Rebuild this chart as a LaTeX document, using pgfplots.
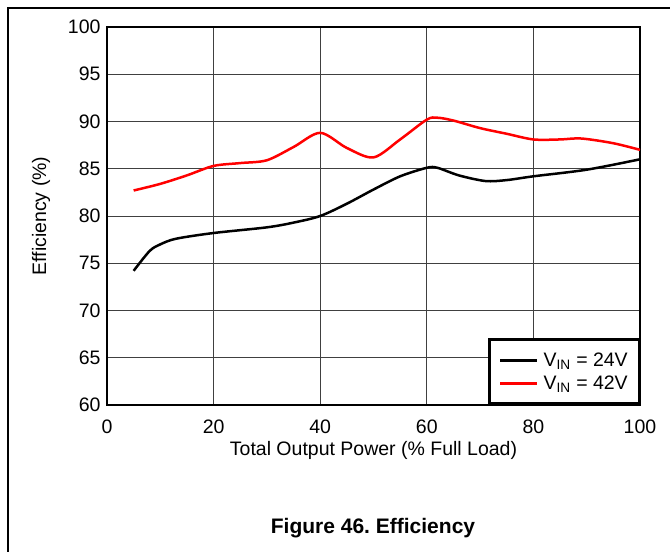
\documentclass[border=0pt]{standalone}
\usepackage{fontspec}
\setmainfont{Liberation Sans}
\usepackage{pgfplots}
\pgfplotsset{compat=1.18}

\pgfplotstableread{
x y
5 74.2
8 76.3
10 77.0
13 77.6
20 78.2
30 78.8
35 79.3
40 80.0
45 81.3
50 82.8
55 84.2
60 85.1
62 85.1
66 84.3
71 83.7
75 83.8
80 84.2
90 84.9
100 86.0
}\vinlow

\pgfplotstableread{
x y
5 82.7
10 83.4
15 84.3
20 85.3
25 85.6
30 85.9
35 87.3
40 88.8
45 87.2
50 86.2
55 88.1
60 90.2
62 90.4
65 90.1
70 89.3
75 88.7
80 88.1
85 88.1
89 88.2
95 87.7
100 87.0
}\vinhigh

\begin{document}
\begin{tikzpicture}[x=1pt,y=1pt]
\path[use as bounding box] (0,0) rectangle (670,552);
\clip (0,0) rectangle (670,552);
% page frame, cut off on the right and at the bottom
\draw[line width=1.5pt] (8,-20) -- (8,544) -- (700,544);
\begin{axis}[
  at={(107pt,147pt)}, anchor=south west,
  width=533pt, height=378pt, scale only axis,
  xmin=0, xmax=100, ymin=60, ymax=100,
  xtick={0,20,...,100}, ytick={60,65,...,100},
  grid=major, grid style={black!75, line width=0.9pt},
  axis line style={line width=2.5pt},
  major tick length=0pt,
  /pgf/number format/assume math mode=true,
  tick label style={font=\fontsize{19.5}{22}\selectfont},
  xticklabel style={yshift=-11pt},
  yticklabel style={xshift=-3pt},
  label style={font=\fontsize{19.5}{22}\selectfont},
  xlabel={Total Output Power (\% Full Load)},
  xlabel style={yshift=-1pt},
  ylabel={Efficiency (\%)},
  ylabel style={yshift=11pt},
  legend style={at={(rel axis cs:1,0)}, anchor=south east,
    draw=black, line width=2.5pt, inner xsep=9pt, inner ysep=11pt,
    row sep=4pt, column sep=3pt,
    font=\fontsize{19.5}{22}\selectfont, cells={anchor=west}},
  legend image code/.code={\draw[#1, line width=3pt] (0pt,0pt) -- (37pt,0pt);},
]
\addplot[black, line width=2.5pt, smooth, tension=0.5] table[x=x,y=y] {\vinlow};
\addlegendentry{V\textsubscript{IN} = 24V}
\addplot[red, line width=2.5pt, smooth, tension=0.5] table[x=x,y=y] {\vinhigh};
\addlegendentry{V\textsubscript{IN} = 42V}
\end{axis}
\node[font=\bfseries\fontsize{21}{24}\selectfont] at (373,24) {Figure 46.\ Efficiency};
\end{tikzpicture}
\end{document}
